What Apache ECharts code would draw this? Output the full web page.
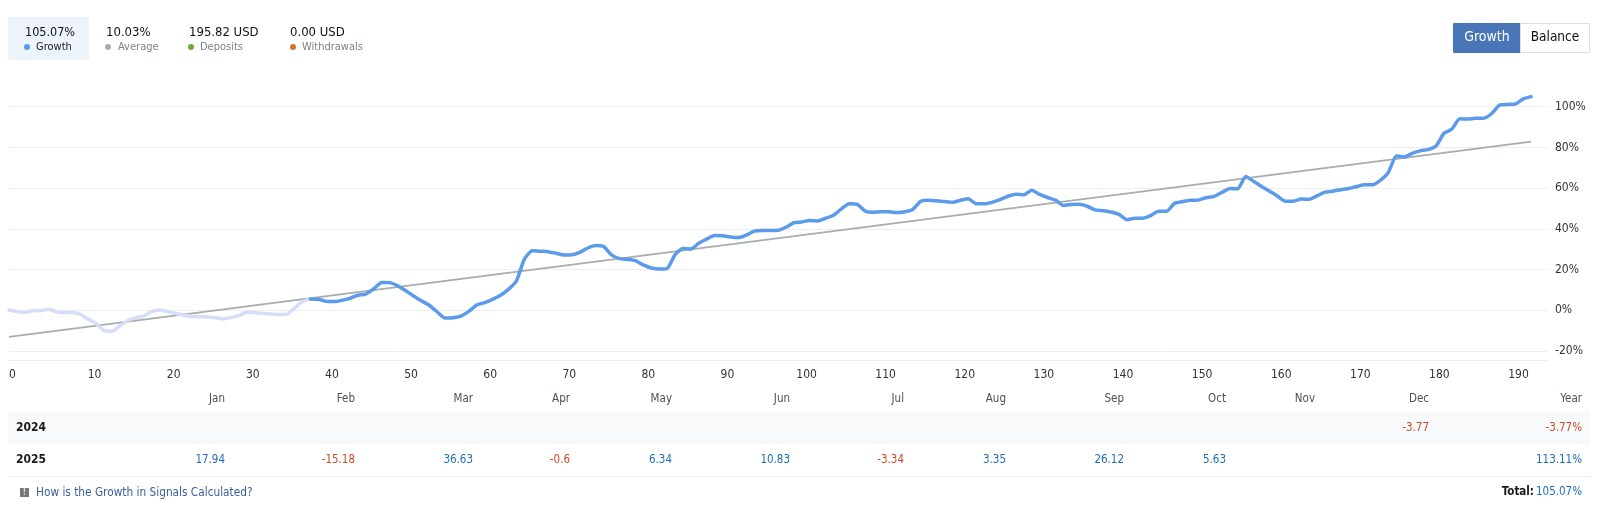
<!DOCTYPE html>
<html><head><meta charset="utf-8">
<script src="https://cdn.jsdelivr.net/npm/echarts@6/dist/echarts.min.js"></script>
<style>html,body{margin:0;padding:0;background:#fff}#c{width:1600px;height:507px}</style>
</head><body><div id="c"></div>
<script>
const earlyGrowth=[0.2,-0.5,-1,-0.2,-0.2,0.5,-0.7,-1.1,-1.1,-2,-4.4,-6.4,-10,-10.3,-7.5,-5,-3.6,-2.8,-0.6,0,-0.6,-1.5,-2.3,-3,-3.1,-3.3,-3.6,-4.2,-3.6,-2.6,-1,-1.1,-1.5,-1.8,-2,-2,1,4.3,5.6];
const laterGrowth=[5.6,5.4,4.4,4.3,4.9,5.9,7.4,8,10.5,13.7,13.6,12.1,9.7,7.2,4.7,2.5,-0.7,-3.8,-3.6,-2.8,-0.5,2.6,3.8,5.4,7.4,10.3,14.4,25,29.3,29,28.8,28,27.2,27.3,28.5,30.6,31.8,31.3,27.2,25.4,25,24.4,22.3,20.8,20.3,20.5,27.2,30.4,30.1,32.9,35,36.7,36.6,36,35.7,36.9,38.9,39.2,39.2,39.3,40.8,43,43.4,44.1,43.9,45.2,46.7,49.8,52.3,52,48.7,48.2,48.4,48.4,48,48.4,49.5,53.6,54.1,53.8,53.4,53,54,54.8,52.3,52.3,53,54.3,56,57,56.7,58.9,56.9,55.4,54.1,51.5,52,52.1,51.1,49.3,48.9,48.3,47.1,44.5,45.2,45.2,46.5,48.6,48.6,52.5,53.3,54,54.1,55.3,55.9,57.9,59.8,59.7,65.7,63.3,60.8,58.5,56.1,53.6,53.6,54.6,54.5,56.2,58,58.5,59.2,59.8,60.8,61.6,61.6,63.9,67.8,75.8,75.3,77.1,78.3,78.9,80.7,86.9,89,94,93.9,94.3,94.3,96.5,100.7,101.1,101.3,103.8,104.9];
const averageLine=[[0,-13],[192,82.8]];
const months=['Jan','Feb','Mar','Apr','May','Jun','Jul','Aug','Sep','Oct','Nov','Dec'];
const monthRight=[225,355,473,570,672,790,904,1006,1124,1226,1315,1429];
const row2024=[null,null,null,null,null,null,null,null,null,null,null,-3.77];
const row2025=[17.94,-15.18,36.63,-0.6,6.34,10.83,-3.34,3.35,26.12,5.63,null,null];
const yearTotals=['-3.77%','113.11%'];
const summary=[['105.07%','Growth','#5b9bea',25,36,27],['10.03%','Average','#a9adb3',106,118,108],['195.82 USD','Deposits','#6fab3c',189,200,191],['0.00 USD','Withdrawals','#d9702f',290,302,293]];

const FONT='"DejaVu Sans Condensed","DejaVu Sans",sans-serif';
const POS='#1f6db5',NEG='#cc4a2c',INK='#1a1a1a',MUTE='#4a4f57';
const T=(x,y,text,fill,size,align,weight)=>({type:'text',x:x,y:y,silent:true,style:{text:text,fill:fill,font:(weight||'normal')+' '+size+'px '+FONT,textAlign:align||'left',textVerticalAlign:'middle'}});
const R=(x,y,w,h,fill,stroke)=>({type:'rect',silent:true,shape:{x:x,y:y,width:w,height:h},style:{fill:fill,stroke:stroke||null,lineWidth:1}});
const g=[];
g.push(R(8,17,81,43,'#edf3fb'));
summary.forEach((s,i)=>{
  g.push(T(s[3],33,s[0],'#111',i===0?12.5:13));
  g.push({type:'circle',silent:true,shape:{cx:s[5],cy:47,r:3},style:{fill:s[2]}});
  g.push(T(s[4],47,s[1],i===0?INK:'#7d828a',11));
});
g.push(R(1453.5,23.5,67,29,'#4a76b8','#4a76b8'));
g.push(R(1520.5,23.5,69,29,'#fff','#dcdfe3'));
g.push(T(1487,37.5,'Growth','#fff',14,'center'));
g.push(T(1555,37.5,'Balance','#111',13.5,'center'));
g.push({type:'line',silent:true,shape:{x1:9,y1:360.5,x2:1547,y2:360.5},style:{stroke:'#ececef',lineWidth:1}});
months.forEach((m,i)=>g.push(T(monthRight[i],399,m,MUTE,11.5,'right')));
g.push(T(1582,399,'Year',MUTE,11.5,'right'));
g.push(R(8,412,1582,32,'#f7f9fb'));
g.push(T(16,428,'2024',INK,12,'left','bold'));
g.push(T(16,460,'2025',INK,12,'left','bold'));
[[row2024,428],[row2025,460]].forEach(r=>r[0].forEach((v,i)=>{
  if(v!==null) g.push(T(monthRight[i],r[1],String(v),v<0?NEG:POS,11.5,'right'));
}));
g.push(T(1582,428,yearTotals[0],NEG,11.5,'right'));
g.push(T(1582,460,yearTotals[1],POS,11.5,'right'));
g.push({type:'line',silent:true,shape:{x1:8,y1:476.5,x2:1590,y2:476.5},style:{stroke:'#eceef1',lineWidth:1}});
g.push(R(20,488,9,9,'#777'));
g.push(T(24.5,492.5,'!','#ddd',8,'center','bold'));
g.push(T(36,492.5,'How is the Growth in Signals Calculated?','#3a5f9e',11.75));
g.push(T(1534,492.5,'Total:',INK,11.5,'right','bold'));
g.push(T(1582,492.5,'105.07%',POS,11.5,'right'));

const chart=echarts.init(document.getElementById('c'),null,{renderer:'canvas'});
chart.setOption({
  animation:false,
  backgroundColor:'#fff',
  grid:[
    {left:9,right:53,top:65.9,height:325.9},
    {left:15.5,right:53,top:360,height:1}
  ],
  xAxis:[
    {gridIndex:0,type:'value',min:0,max:194,show:false},
    {gridIndex:1,type:'value',min:0,max:193.6,interval:10,position:'bottom',
     axisLine:{show:false},axisTick:{show:false},splitLine:{show:false},
     axisLabel:{showMaxLabel:false,showMinLabel:true,margin:8,color:'#333',fontSize:12,fontFamily:FONT,hideOverlap:false,
       formatter:v=>v===0?'{z|0}':String(v),rich:{z:{padding:[0,6,0,0],color:'#333',fontSize:12,fontFamily:FONT}}}}
  ],
  yAxis:[
    {gridIndex:0,type:'value',position:'right',min:-40,max:120,interval:20,
     axisLine:{show:false},axisTick:{show:false},
     splitLine:{show:true,showMinLine:false,showMaxLine:false,lineStyle:{color:'#eeeeee',width:1}},
     axisLabel:{margin:8,color:'#333',fontSize:12,fontFamily:FONT,showMinLabel:false,showMaxLabel:false,formatter:v=>v+'%'}},
    {gridIndex:1,type:'value',show:false,min:0,max:1}
  ],
  series:[
    {type:'line',name:'Average',xAxisIndex:0,yAxisIndex:0,data:averageLine,showSymbol:false,silent:true,lineStyle:{color:'#a9acaf',width:1.8}},
    {type:'line',name:'Before',xAxisIndex:0,yAxisIndex:0,data:earlyGrowth.map((v,i)=>[i,v]),showSymbol:false,smooth:0.2,silent:true,lineStyle:{color:'#d5def6',width:3.5,join:'round',cap:'round'}},
    {type:'line',name:'Growth',xAxisIndex:0,yAxisIndex:0,data:laterGrowth.map((v,i)=>[i+38,v]),showSymbol:false,smooth:0.2,silent:true,lineStyle:{color:'#5b9bea',width:3.5,join:'round',cap:'round'}}
  ],
  graphic:g
});
</script></body></html>
